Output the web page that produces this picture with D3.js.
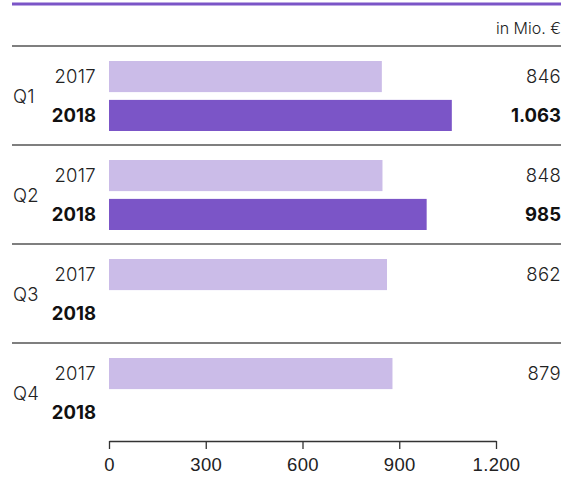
<!DOCTYPE html>
<html lang="de">
<head>
<meta charset="UTF-8" />
<title>Umsatz je Quartal</title>
<style>
  body { margin: 0; background: #fff; }
  svg { display: block; font-family: 'Inter', 'Roboto', sans-serif; }
  .lbl { font-size: 18.5px; fill: #222; font-weight: 300; letter-spacing: 0.3px; }
  .bold { font-weight: 700; fill: #111; letter-spacing: 0; }
</style>
</head>
<body>
<div id="chart"></div>
<script src="https://cdn.jsdelivr.net/npm/d3@7/dist/d3.min.js"></script>
<script>
const quarters = ["Q1", "Q2", "Q3", "Q4"];
const years = ["2017", "2018"];
const values2017 = [846, 848, 862, 879];
const values2018 = [1063, 985, null, null];
const tickValues = [0, 300, 600, 900, 1200];
const tickLabels = ["0", "300", "600", "900", "1.200"];

const W = 570, H = 484;
const svg = d3.select("#chart").append("svg").attr("width", W).attr("height", H);

const x = d3.scaleLinear().domain([0, 1200]).range([109, 496]);
const yGroup = d3.scaleBand().domain(quarters).range([46, 442]);
const yBar = d3.scaleBand().domain(years).range([15, 85]).paddingInner(0.2);
const color = { "2017": "#cbbce8", "2018": "#7b55c7" };
const fmt = v => d3.format(",")(v).replace(/,/g, ".");

// top purple rule + header
svg.append("line").attr("x1", 12).attr("x2", 561).attr("y1", 4).attr("y2", 4)
  .attr("stroke", "#7b55c7").attr("stroke-width", 3);
svg.append("text").attr("class", "lbl").attr("x", 561).attr("y", 34)
  .attr("text-anchor", "end").style("font-size", "16px").style("letter-spacing", "0").text("in Mio. €");

const data = quarters.map((q, i) => ({ q, vals: [values2017[i], values2018[i]] }));

const g = svg.selectAll("g.grp").data(data).join("g")
  .attr("class", "grp")
  .attr("transform", d => `translate(0,${yGroup(d.q)})`);

// separator line on top of each group
g.append("line").attr("x1", 12).attr("x2", 561).attr("y1", 0).attr("y2", 0)
  .attr("stroke", "#555").attr("stroke-width", 1.5);

g.append("text").attr("class", "lbl").attr("x", 13)
  .attr("y", (yBar("2017") + yBar("2018") + yBar.bandwidth()) / 2)
  .attr("dy", "0.36em").text(d => d.q);

years.forEach((yr, j) => {
  g.append("text").attr("class", "lbl" + (j ? " bold" : ""))
    .attr("x", 96).attr("text-anchor", "end")
    .attr("y", yBar(yr) + yBar.bandwidth() / 2).attr("dy", "0.36em")
    .text(yr);

  g.filter(d => d.vals[j] != null).append("rect")
    .attr("x", x(0)).attr("y", yBar(yr))
    .attr("width", d => x(d.vals[j]) - x(0))
    .attr("height", yBar.bandwidth())
    .attr("fill", color[yr]);

  g.filter(d => d.vals[j] != null).append("text")
    .attr("class", "lbl" + (j ? " bold" : ""))
    .attr("x", 561).attr("text-anchor", "end")
    .attr("y", yBar(yr) + yBar.bandwidth() / 2).attr("dy", "0.36em")
    .text(d => fmt(d.vals[j]));
});

// axis
const axis = svg.append("g").attr("transform", "translate(0,441)")
  .call(d3.axisBottom(x).tickValues(tickValues).tickFormat((d, i) => tickLabels[i])
    .tickSize(8).tickSizeOuter(0).tickPadding(9));
axis.select(".domain").attr("stroke", "#333").attr("stroke-width", 1.3);
axis.selectAll(".tick line").attr("stroke", "#333").attr("stroke-width", 1.3);
axis.selectAll(".tick text").attr("class", "lbl").attr("font-family", null).attr("font-size", null).attr("fill", null);
</script>
</body>
</html>
